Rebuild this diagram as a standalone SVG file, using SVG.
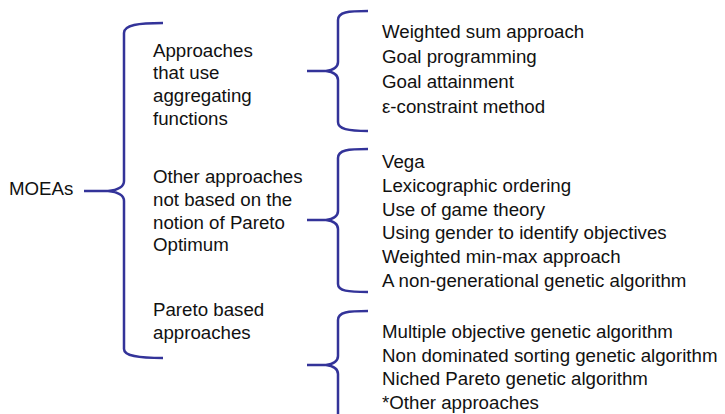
<svg xmlns="http://www.w3.org/2000/svg" width="725" height="414" viewBox="0 0 725 414">
<style>
text{font-family:"Liberation Sans",Arial,sans-serif;font-size:18.7px;fill:#111}
.brace{fill:none;stroke:#333399;stroke-width:2.5;stroke-linecap:butt;stroke-linejoin:round}
</style>
<rect width="725" height="414" fill="#fff"/>
<g id="connectors">
<path class="brace" d="M163,23 C138,23 124,25 124,33 L124,181 C124,187 118,190 108,191 L84,191 M108,191 C118,192 124,195 124,201 L124,349 C124,356 138,358 163,358"/>
<path class="brace" d="M368,11 C348,11 338,12 338,20 L338,62 C338,68 333,70 326,71 L307,71 M326,71 C333,72 338,74 338,80 L338,122 C338,129 348,131 368,131"/>
<path class="brace" d="M368,149 C348,149 338,150 338,158 L338,211 C338,217 333,219 326,220 L307,220 M326,220 C333,221 338,223 338,229 L338,284 C338,291 348,292 368,292"/>
<path class="brace" d="M368,311 C348,311 338,312 338,320 L338,356 C338,362 333,364 326,365 L307,365 M326,365 C333,366 338,368 338,374 L338,418"/>
</g>
<g id="moeas"><text x="9" y="195">MOEAs</text></g>
<g id="aggregating">
<text x="153" y="56.7">Approaches</text>
<text x="153" y="79.4">that use</text>
<text x="153" y="102.1">aggregating</text>
<text x="153" y="124.8">functions</text>
</g>
<g id="non-pareto">
<text x="153" y="183.3">Other approaches</text>
<text x="153" y="206">not based on the</text>
<text x="153" y="228.7">notion of Pareto</text>
<text x="153" y="251.4">Optimum</text>
</g>
<g id="pareto">
<text x="153" y="316">Pareto based</text>
<text x="153" y="338.5">approaches</text>
</g>
<g id="aggregating-list">
<text x="382" y="38.3">Weighted sum approach</text>
<text x="382" y="63">Goal programming</text>
<text x="382" y="87.6">Goal attainment</text>
<text x="382" y="112.5">ε-constraint method</text>
</g>
<g id="non-pareto-list">
<text x="382" y="167.7">Vega</text>
<text x="382" y="191.6">Lexicographic ordering</text>
<text x="382" y="215.5">Use of game theory</text>
<text x="382" y="239.4">Using gender to identify objectives</text>
<text x="382" y="263.3">Weighted min-max approach</text>
<text x="382" y="287.2">A non-generational genetic algorithm</text>
</g>
<g id="pareto-list">
<text x="382" y="337.7">Multiple objective genetic algorithm</text>
<text x="382" y="361.5">Non dominated sorting genetic algorithm</text>
<text x="382" y="385.3">Niched Pareto genetic algorithm</text>
<text x="382" y="409">*Other approaches</text>
</g>
</svg>
